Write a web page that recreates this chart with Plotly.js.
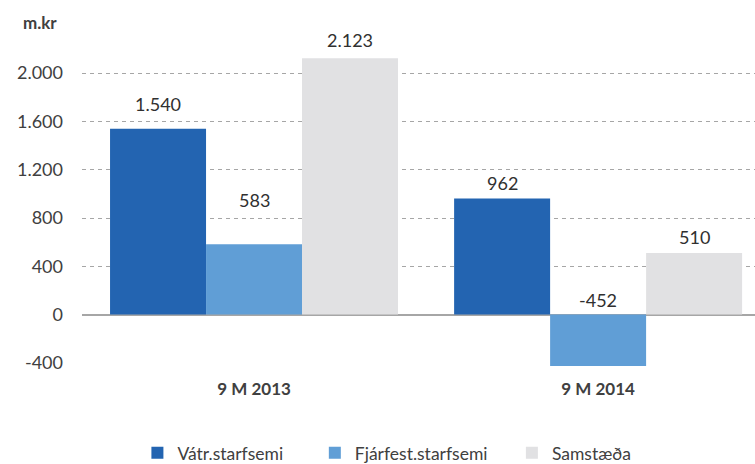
<!DOCTYPE html>
<html>
<head>
<meta charset="utf-8">
<script src="https://cdn.plot.ly/plotly-3.0.1.min.js"></script>
<style>html,body{margin:0;padding:0;background:#fff;}#chart{width:755px;height:464px;}</style>
</head>
<body>
<div id="chart"></div>
<script>
// ---- data ----
const categories = ['9 M 2013', '9 M 2014'];
const seriesNames = ['Vátr.starfsemi', 'Fjárfest.starfsemi', 'Samstæða'];
const vatr = [1540, 962];
const fjarfest = [583, -452];
const samstaeda = [2123, 510];
const yTicks = [0, 400, 800, 1200, 1600, 2000];
const yTicksNoGrid = [-400];
const unitLabel = 'm.kr';

// ---- styling ----
const colors = ['#2364B1', '#609ED6', '#E1E1E3'];
const labelShift = [[25, 15], [44, 15], [18, 16]];
const legendX = [0.182, 0.417, 0.678];
const textColor = '#404040';
const FONT = 'Lato, "Open Sans", sans-serif';
const Y_RANGE = [-426, 2250];

function fmt(v) {
  const s = Math.abs(v).toString().replace(/\B(?=(\d{3})+(?!\d))/g, '.');
  return (v < 0 ? '-' : '') + s;
}

const series = [vatr, fjarfest, samstaeda];
const bargap = 0.163;
const barW = (1 - bargap) / series.length;
const legendIds = ['legend', 'legend2', 'legend3'];

const traces = series.map((vals, i) => ({
  type: 'bar',
  name: seriesNames[i],
  x: categories,
  y: vals,
  legend: legendIds[i],
  marker: {color: colors[i], line: {width: 0}},
  hoverinfo: 'skip'
}));

const annotations = [];
series.forEach((vals, i) => {
  vals.forEach((v, j) => {
    annotations.push({
      x: j + (i - (series.length - 1) / 2) * barW,
      y: Math.max(v, 0),
      xref: 'x', yref: 'y',
      text: fmt(v),
      showarrow: false,
      xanchor: 'center', yanchor: 'middle',
      yshift: labelShift[i][j],
      font: {family: FONT, size: 18, color: '#303030'}
    });
  });
});
annotations.push({
  text: '<b>' + unitLabel + '</b>',
  xref: 'paper', yref: 'paper',
  x: -0.09, y: 1.065,
  xanchor: 'left', yanchor: 'middle',
  showarrow: false,
  font: {family: FONT, size: 17, color: textColor}
});

const layout = {
  width: 755, height: 464,
  margin: {l: 82, r: 0, t: 43, b: 98, pad: 0},
  paper_bgcolor: '#fff', plot_bgcolor: '#fff',
  barmode: 'group', bargap: bargap, bargroupgap: 0,
  font: {family: FONT, size: 18, color: textColor},
  xaxis: {
    type: 'category',
    range: [-0.5, 1.456],
    showgrid: false, zeroline: false, showline: false,
    ticks: '', ticklabelstandoff: 11,
    tickfont: {family: FONT, size: 17, color: textColor, weight: 'bold'}
  },
  yaxis: {
    range: Y_RANGE,
    tickvals: yTicks,
    ticktext: yTicks.map(fmt),
    showgrid: true, gridcolor: '#A6A6A6', griddash: '4px,4px', gridwidth: 1,
    zeroline: true, zerolinecolor: '#A6A6A6', zerolinewidth: 2,
    showline: false, ticks: '', ticklabelstandoff: 18,
    tickfont: {family: FONT, size: 18, color: textColor}
  },
  yaxis2: {
    overlaying: 'y', side: 'left',
    range: Y_RANGE,
    tickvals: yTicksNoGrid,
    ticktext: yTicksNoGrid.map(fmt),
    showgrid: false, zeroline: false, showline: false,
    ticks: '', ticklabelstandoff: 18,
    tickfont: {family: FONT, size: 18, color: textColor}
  },
  annotations: annotations
};
legendIds.forEach((id, i) => {
  layout[id] = {
    orientation: 'h',
    xref: 'container', yref: 'container',
    x: legendX[i], y: 0.024,
    xanchor: 'left', yanchor: 'middle',
    font: {family: FONT, size: 17.5, color: textColor},
    itemwidth: 30, bgcolor: 'rgba(0,0,0,0)'
  };
});

// dummy trace to bind yaxis2 so its tick label is drawn
traces.push({type: 'scatter', x: [categories[0]], y: [null], yaxis: 'y2', showlegend: false, hoverinfo: 'skip'});

Plotly.newPlot('chart', traces, layout, {displayModeBar: false, staticPlot: true});
</script>
</body>
</html>
